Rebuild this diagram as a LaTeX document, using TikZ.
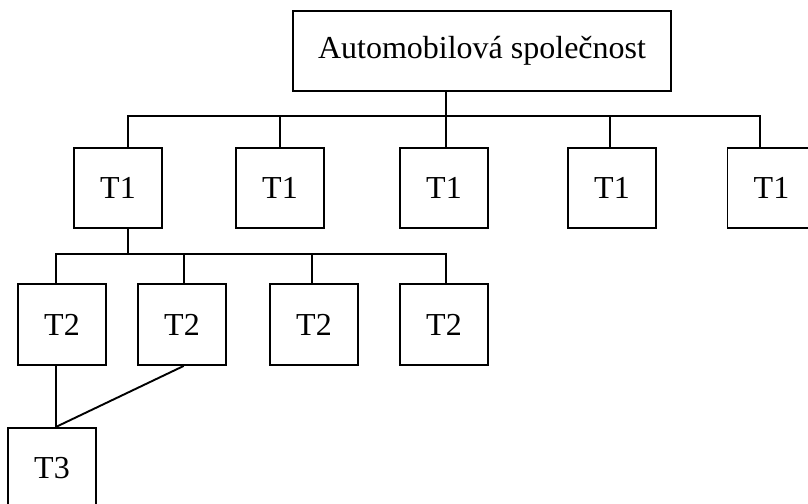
\documentclass[tikz,border=0pt]{standalone}
\usepackage{fontspec}
\setmainfont{Liberation Serif}
\begin{document}
\begin{tikzpicture}[x=1pt, y=-1pt,
  box/.style={draw, line width=1.9pt, inner sep=0pt,
    minimum width=88pt, minimum height=80pt,
    font=\fontsize{32}{38}\selectfont},
  link/.style={line width=1.9pt}]
\useasboundingbox (0,0) rectangle (808,503);
\clip (0,0) rectangle (808,503);

% company
\node[box, minimum width=378pt] (firm) at (482,51) {Automobilová společnost};

% first level
\node[box] (a1) at (118,188) {T1};
\node[box] (a2) at (280,188) {T1};
\node[box] (a3) at (444,188) {T1};
\node[box] (a4) at (612,188) {T1};
\node[box] (a5) at (771.5,188) {T1};

% second level
\node[box, minimum height=81pt] (b1) at (62,324.5) {T2};
\node[box, minimum height=81pt] (b2) at (182,324.5) {T2};
\node[box, minimum height=81pt] (b3) at (314,324.5) {T2};
\node[box, minimum height=81pt] (b4) at (444,324.5) {T2};

% third level
\node[box, minimum height=81pt] (c1) at (52,468.5) {T3};

% bus below the company
\coordinate (j0) at (446,116);
\coordinate (j1) at (128,116);
\coordinate (j2) at (280,116);
\coordinate (j3) at (446,116);
\coordinate (j4) at (610,116);
\coordinate (j5) at (760,116);
\draw[link] (j0 |- firm.south) -- (j0);
\draw[link] (j1 |- a1.north) -- (j1) -- (j5) -- (j5 |- a5.north);
\foreach \k in {2,3,4}
  \draw[link] (j\k) -- (j\k |- a\k.north);

% bus below the first T1
\coordinate (h0) at (128,254);
\coordinate (k1) at (55.7,254);
\coordinate (k2) at (183.7,254);
\coordinate (k3) at (312,254);
\coordinate (k4) at (446,254);
\draw[link] (h0 |- a1.south) -- (h0);
\draw[link] (k1 |- b1.north) -- (k1) -- (k4) -- (k4 |- b4.north);
\foreach \k in {2,3}
  \draw[link] (k\k) -- (k\k |- b\k.north);

% links to T3
\coordinate (p) at (55.7,428);
\draw[link] (p |- b1.south) -- (p |- c1.north);
\draw[link] (k2 |- b2.south) -- (p |- c1.north);
\end{tikzpicture}
\end{document}
